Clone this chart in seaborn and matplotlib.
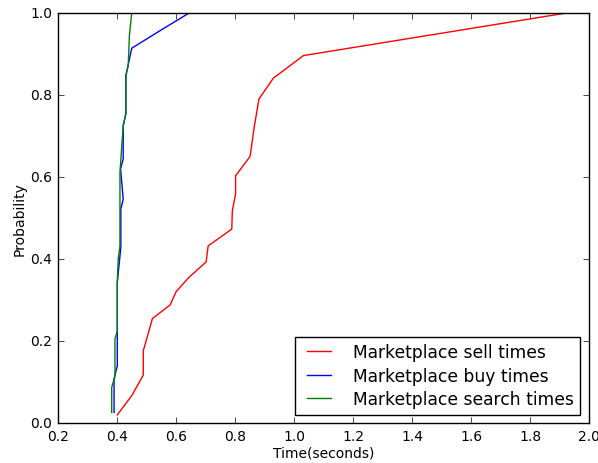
import matplotlib
matplotlib.use("Agg")
import matplotlib.pyplot as plt
import seaborn as sns
import pandas as pd

sell_x = [0.401, 0.450, 0.489, 0.489, 0.520, 0.580, 0.600, 0.642, 0.702, 0.709,
          0.789, 0.791, 0.802, 0.802, 0.851, 0.865, 0.881, 0.930, 1.032, 1.925]
sell_y = [0.020, 0.067, 0.117, 0.176, 0.255, 0.288, 0.320, 0.354, 0.393, 0.432,
          0.473, 0.518, 0.559, 0.603, 0.650, 0.721, 0.790, 0.841, 0.896, 1.000]

buy_x = [0.390, 0.390, 0.401, 0.401, 0.401, 0.413, 0.413, 0.421, 0.412, 0.421,
         0.421, 0.430, 0.430, 0.450, 0.551, 0.645]
buy_y = [0.026, 0.107, 0.140, 0.221, 0.343, 0.429, 0.522, 0.546, 0.620, 0.644,
         0.725, 0.754, 0.847, 0.914, 0.959, 1.000]

search_x = [0.382, 0.382, 0.393, 0.393, 0.401, 0.401, 0.404, 0.410, 0.410, 0.421,
            0.430, 0.430, 0.438, 0.442, 0.450]
search_y = [0.026, 0.087, 0.115, 0.205, 0.225, 0.343, 0.400, 0.432, 0.611, 0.725,
            0.754, 0.847, 0.871, 0.945, 1.000]

labels = ["Marketplace sell times", "Marketplace buy times", "Marketplace search times"]
colors = ["#ff0000", "#0000ff", "#008000"]

plt.style.use("classic")
fig = plt.figure(figsize=(5.98, 4.64), dpi=100, facecolor="white")
ax = fig.add_axes([0.097, 0.086, 0.888, 0.884])

for xs, ys, lab, c in zip([sell_x, buy_x, search_x], [sell_y, buy_y, search_y], labels, colors):
    df = pd.DataFrame({"x": xs, "y": ys})
    sns.lineplot(data=df, x="x", y="y", sort=False, estimator=None, ax=ax,
                 color=c, label=lab, linewidth=1.0)

ax.set_xlim(0.2, 2.0)
ax.set_ylim(0.0, 1.0)
ax.set_xticks([0.2, 0.4, 0.6, 0.8, 1.0, 1.2, 1.4, 1.6, 1.8, 2.0])
ax.set_yticks([0.0, 0.2, 0.4, 0.6, 0.8, 1.0])
ax.tick_params(labelsize=10, direction="in", top=True, right=True)
ax.set_xlabel("Time(seconds)", fontsize=10, labelpad=2)
ax.set_ylabel("Probability", fontsize=10, labelpad=3)
leg = ax.legend(loc="lower right", fontsize=12.3, handlelength=2.0, borderpad=0.4,
                labelspacing=0.3, handletextpad=1.0, frameon=True, fancybox=False)
leg.get_frame().set_edgecolor("black")
fig.savefig("out.png", dpi=100, facecolor="white")
